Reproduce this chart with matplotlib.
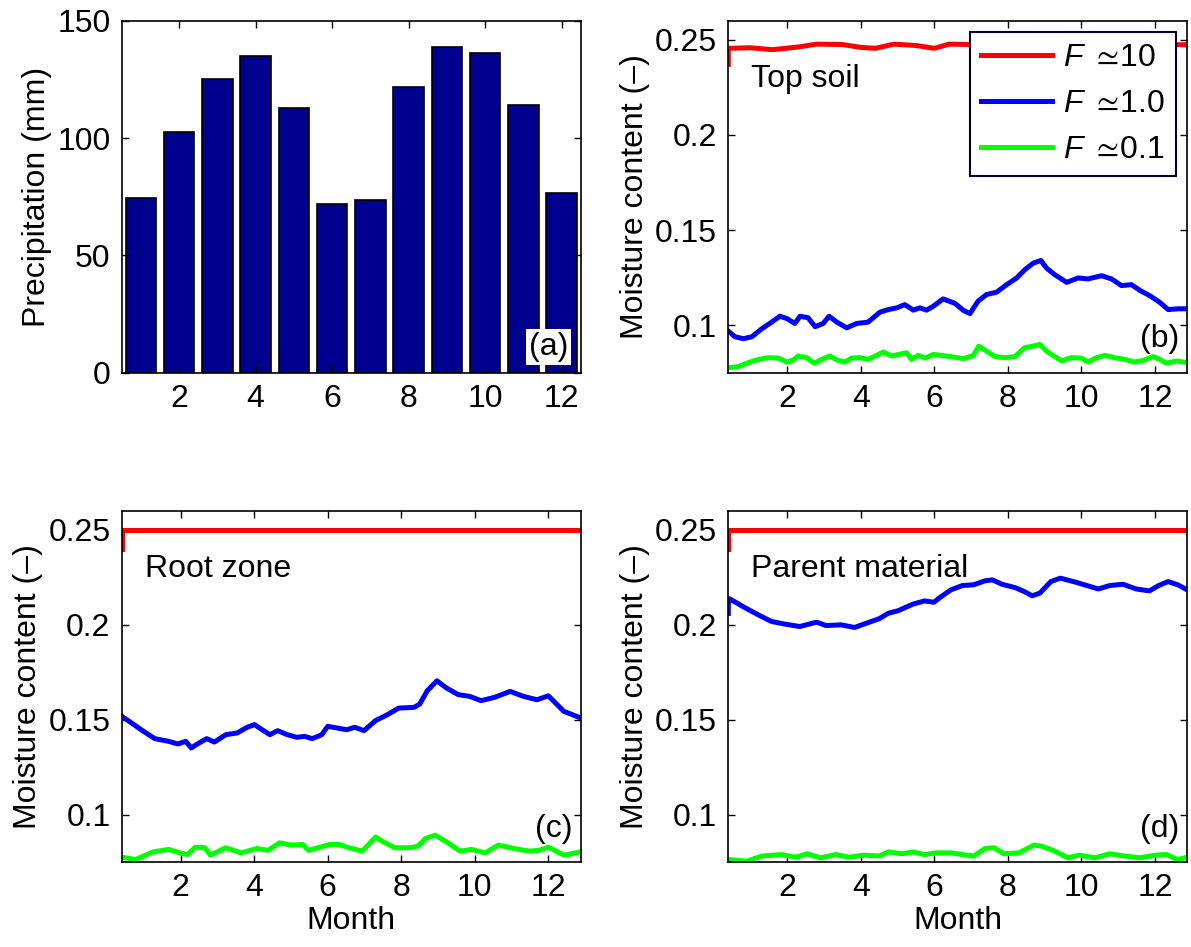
import matplotlib
matplotlib.use('Agg')
import matplotlib.pyplot as plt
from matplotlib.ticker import FuncFormatter

plt.rcParams['font.family'] = ['Liberation Sans', 'DejaVu Sans']
plt.rcParams['mathtext.fontset'] = 'custom'
plt.rcParams['mathtext.it'] = 'Liberation Sans:italic'
plt.rcParams['mathtext.rm'] = 'Liberation Sans'
plt.rcParams['mathtext.fallback'] = 'stixsans'

# (a) monthly precipitation
months = [1, 2, 3, 4, 5, 6, 7, 8, 9, 10, 11, 12]
precip = [74.6, 102.4, 125.1, 135.1, 112.9, 71.9, 73.6, 121.6, 138.8, 136.1, 114.3, 76.4]

# (b) top soil
top_red_m = [0.4, 0.4, 1.0, 1.6, 2.3, 2.8, 3.5, 4.0, 4.4, 4.9, 5.5, 6.0, 6.4, 7.0, 8.0, 10.0, 12.88]
top_red_v = [0.237, 0.2455, 0.2458, 0.2448, 0.2462, 0.2477, 0.2475, 0.246, 0.2455, 0.2477, 0.247,
             0.2455, 0.2477, 0.2475, 0.2476, 0.2475, 0.2474]
top_blue_m = [0.4, 0.58, 0.81, 1.04, 1.31, 1.58, 1.80, 1.99, 2.21, 2.35, 2.57, 2.76, 2.98, 3.14,
              3.35, 3.62, 3.89, 4.2, 4.52, 4.75, 4.98, 5.2, 5.43, 5.61, 5.79, 5.97, 6.24, 6.56,
              6.79, 6.97, 7.19, 7.42, 7.69, 7.97, 8.24, 8.46, 8.69, 8.9, 9.05, 9.28, 9.6, 9.91,
              10.18, 10.55, 10.82, 11.09, 11.36, 11.59, 11.86, 12.13, 12.36, 12.63, 12.88]
top_blue_v = [0.0969, 0.0939, 0.0929, 0.0939, 0.0981, 0.1016, 0.1047, 0.1035, 0.1009, 0.1047,
              0.1039, 0.0992, 0.1009, 0.1047, 0.1016, 0.0986, 0.1009, 0.1016, 0.1068, 0.1082,
              0.1091, 0.1108, 0.1079, 0.1091, 0.1079, 0.1099, 0.1138, 0.1115, 0.1078, 0.1061,
              0.1126, 0.1161, 0.1173, 0.1213, 0.1248, 0.1291, 0.1326, 0.134, 0.13, 0.1265,
              0.1225, 0.1248, 0.1243, 0.126, 0.1243, 0.1208, 0.1213, 0.1183, 0.1155, 0.112,
              0.1082, 0.1086, 0.1086]
top_green_m = [0.4, 0.67, 0.94, 1.22, 1.49, 1.76, 1.99, 2.17, 2.3, 2.53, 2.74, 2.94, 3.16, 3.35,
               3.57, 3.75, 3.98, 4.2, 4.43, 4.61, 4.84, 5.02, 5.25, 5.38, 5.56, 5.75, 5.97, 6.2,
               6.47, 6.79, 7.06, 7.21, 7.42, 7.65, 7.92, 8.19, 8.46, 8.69, 8.87, 9.05, 9.23,
               9.46, 9.73, 10.0, 10.18, 10.41, 10.64, 10.91, 11.18, 11.45, 11.72, 11.95, 12.13,
               12.32, 12.59, 12.88]
top_green_v = [0.0777, 0.0782, 0.0803, 0.082, 0.0829, 0.0827, 0.0806, 0.0817, 0.0838, 0.0829,
               0.08, 0.082, 0.0838, 0.0817, 0.0806, 0.0827, 0.0829, 0.082, 0.0841, 0.0859,
               0.0838, 0.0846, 0.0855, 0.082, 0.0841, 0.0827, 0.0846, 0.0841, 0.0834, 0.0824,
               0.0841, 0.089, 0.0864, 0.0835, 0.0829, 0.0835, 0.0882, 0.089, 0.0899, 0.0864,
               0.0841, 0.0812, 0.0829, 0.0827, 0.0806, 0.0829, 0.0841, 0.0829, 0.082, 0.0806,
               0.0817, 0.0835, 0.082, 0.08, 0.0812, 0.0803]

# (c) root zone
root_red_m = [0.4, 0.4, 12.88]
root_red_v = [0.24, 0.25, 0.25]
root_blue_m = [0.4, 0.67, 0.99, 1.3, 1.67, 1.93, 2.14, 2.29, 2.5, 2.71, 2.92, 3.23, 3.54, 3.81,
               4.01, 4.28, 4.43, 4.64, 4.9, 5.16, 5.37, 5.58, 5.84, 6.0, 6.26, 6.52, 6.73, 6.99,
               7.3, 7.62, 7.93, 8.35, 8.5, 8.71, 8.97, 9.23, 9.55, 9.86, 10.17, 10.54, 10.96,
               11.32, 11.69, 12.0, 12.42, 12.88]
root_blue_v = [0.1518, 0.1482, 0.1439, 0.14, 0.1386, 0.1372, 0.1386, 0.1351, 0.1377, 0.14,
               0.1382, 0.1421, 0.143, 0.146, 0.1474, 0.1439, 0.1421, 0.1442, 0.1421, 0.1407,
               0.1412, 0.14, 0.1421, 0.1465, 0.1456, 0.1447, 0.146, 0.1442, 0.1495, 0.1526,
               0.1561, 0.1565, 0.1582, 0.1653, 0.1705, 0.1667, 0.1632, 0.1623, 0.16, 0.1618,
               0.1649, 0.1623, 0.1605, 0.1626, 0.1544, 0.1509]
root_green_m = [0.4, 0.78, 1.25, 1.67, 1.98, 2.19, 2.4, 2.66, 2.81, 3.23, 3.65, 4.07, 4.38, 4.69,
                5.0, 5.32, 5.48, 5.74, 6.05, 6.31, 6.57, 6.94, 7.3, 7.51, 7.82, 8.24, 8.45, 8.66,
                8.92, 9.23, 9.6, 9.91, 10.28, 10.64, 11.06, 11.48, 11.74, 12.0, 12.42, 12.88]
root_green_v = [0.0775, 0.0763, 0.0803, 0.0816, 0.0798, 0.0789, 0.0828, 0.0825, 0.0786, 0.0825,
                0.0798, 0.0821, 0.0811, 0.0851, 0.0839, 0.0842, 0.0811, 0.0825, 0.0842, 0.0842,
                0.0825, 0.0807, 0.0881, 0.0856, 0.0825, 0.0825, 0.0833, 0.0874, 0.0891, 0.0856,
                0.0807, 0.0816, 0.0798, 0.0839, 0.0821, 0.0807, 0.0811, 0.0828, 0.0786, 0.0803]

# (d) parent material
par_red_m = [0.4, 0.4, 12.88]
par_red_v = [0.24, 0.25, 0.25]
par_blue_m = [0.4, 0.4, 0.44, 0.8, 1.21, 1.57, 1.93, 2.34, 2.8, 3.06, 3.47, 3.83, 4.09, 4.5, 4.75,
              5.01, 5.42, 5.73, 5.99, 6.19, 6.45, 6.76, 7.07, 7.38, 7.58, 7.84, 8.2, 8.45, 8.66,
              8.87, 9.17, 9.43, 9.84, 10.15, 10.46, 10.77, 11.13, 11.49, 11.85, 12.1, 12.36,
              12.62, 12.88]
par_blue_v = [0.206, 0.2137, 0.2137, 0.2096, 0.2053, 0.2018, 0.2004, 0.1991, 0.2014, 0.1996, 0.2,
              0.1986, 0.2004, 0.2032, 0.2061, 0.2074, 0.2109, 0.2126, 0.2119, 0.2149, 0.2184,
              0.2207, 0.2211, 0.2232, 0.2237, 0.2214, 0.2196, 0.2175, 0.2153, 0.2167, 0.2228,
              0.2246, 0.2225, 0.2207, 0.2189, 0.2207, 0.2214, 0.2189, 0.2179, 0.2207, 0.2228,
              0.2211, 0.2184]
par_green_m = [0.4, 0.9, 1.31, 1.83, 2.24, 2.54, 2.9, 3.32, 3.68, 4.09, 4.5, 4.75, 5.11, 5.42,
               5.73, 6.04, 6.45, 6.76, 7.07, 7.38, 7.63, 7.89, 8.3, 8.71, 8.92, 9.23, 9.64, 9.94,
               10.36, 10.77, 11.18, 11.59, 12.0, 12.31, 12.62, 12.88]
par_green_v = [0.0763, 0.0754, 0.0781, 0.0789, 0.0775, 0.0793, 0.0772, 0.0789, 0.0775, 0.0786,
               0.0781, 0.0803, 0.0793, 0.0803, 0.0789, 0.0798, 0.0798, 0.0789, 0.0781, 0.0821,
               0.0825, 0.0793, 0.0798, 0.0839, 0.0833, 0.0811, 0.0772, 0.0786, 0.0772, 0.0793,
               0.0781, 0.0772, 0.0786, 0.0789, 0.0763, 0.0775]

legend_labels = [r'$F\ \simeq\!$10', r'$F\ \simeq\!$1.0', r'$F\ \simeq\!$0.1']
panel_names = ['Top soil', 'Root zone', 'Parent material']

FS = 23
LW = 3.6

fig = plt.figure(figsize=(11.91, 9.47), dpi=100)
ax_a = fig.add_axes([0.1022, 0.6064, 0.3854, 0.3717])
ax_b = fig.add_axes([0.6115, 0.6064, 0.3854, 0.3717])
ax_c = fig.add_axes([0.1022, 0.0898, 0.3854, 0.3706])
ax_d = fig.add_axes([0.6115, 0.0898, 0.3854, 0.3706])


def style_axis(ax):
    ax.tick_params(direction='in', top=True, right=True, length=5, width=1,
                   labelsize=FS, pad=8)
    for sp in ax.spines.values():
        sp.set_linewidth(1.2)
        sp.set_color('black')


# precipitation bars
ax_a.bar(months, precip, width=0.8, color='#00008f', edgecolor='black', linewidth=1.2)
ax_a.set_xlim(0.5, 12.5)
ax_a.set_ylim(0, 150)
ax_a.set_xticks([2, 4, 6, 8, 10, 12])
ax_a.set_yticks([0, 50, 100, 150])
ax_a.set_ylabel('Precipitation (mm)', fontsize=FS)
style_axis(ax_a)
ax_a.text(0.972, 0.073, '(a)', transform=ax_a.transAxes, ha='right', va='center', fontsize=FS,
          bbox=dict(facecolor='white', edgecolor='none', pad=2))

fmt = FuncFormatter(lambda v, p: '%g' % round(v, 3))

series = [
    (ax_b, top_red_m, top_red_v, top_blue_m, top_blue_v, top_green_m, top_green_v, '(b)'),
    (ax_c, root_red_m, root_red_v, root_blue_m, root_blue_v, root_green_m, root_green_v, '(c)'),
    (ax_d, par_red_m, par_red_v, par_blue_m, par_blue_v, par_green_m, par_green_v, '(d)'),
]

for i, (ax, rm, rv, bm, bv, gm, gv, tag) in enumerate(series):
    ax.plot(rm, rv, color='#ff0000', lw=LW, label=legend_labels[0])
    ax.plot(bm, bv, color='#0000ff', lw=LW, label=legend_labels[1])
    ax.plot(gm, gv, color='#00ff00', lw=LW, label=legend_labels[2])
    ax.set_xlim(0.4, 12.88)
    ax.set_ylim(0.075, 0.26)
    ax.set_xticks([2, 4, 6, 8, 10, 12])
    ax.set_yticks([0.1, 0.15, 0.2, 0.25])
    ax.yaxis.set_major_formatter(fmt)
    ax.set_ylabel('Moisture content (\u2013)', fontsize=FS)
    style_axis(ax)
    ax.text(0.05, 0.835, panel_names[i], transform=ax.transAxes, ha='left', va='center', fontsize=FS)
    ax.text(0.982, 0.095, tag, transform=ax.transAxes, ha='right', va='center', fontsize=FS)

ax_c.set_xlabel('Month', fontsize=FS, labelpad=2)
ax_d.set_xlabel('Month', fontsize=FS, labelpad=2)

leg = ax_b.legend(loc='upper right', bbox_to_anchor=(0.975, 0.968), borderaxespad=0,
                  fontsize=FS, fancybox=False, framealpha=1, handlelength=2.2,
                  handletextpad=0.35, labelspacing=0.5, borderpad=0.35)
leg.get_frame().set_edgecolor('#000033')
leg.get_frame().set_linewidth(1.5)

fig.savefig('out.png', dpi=100)
